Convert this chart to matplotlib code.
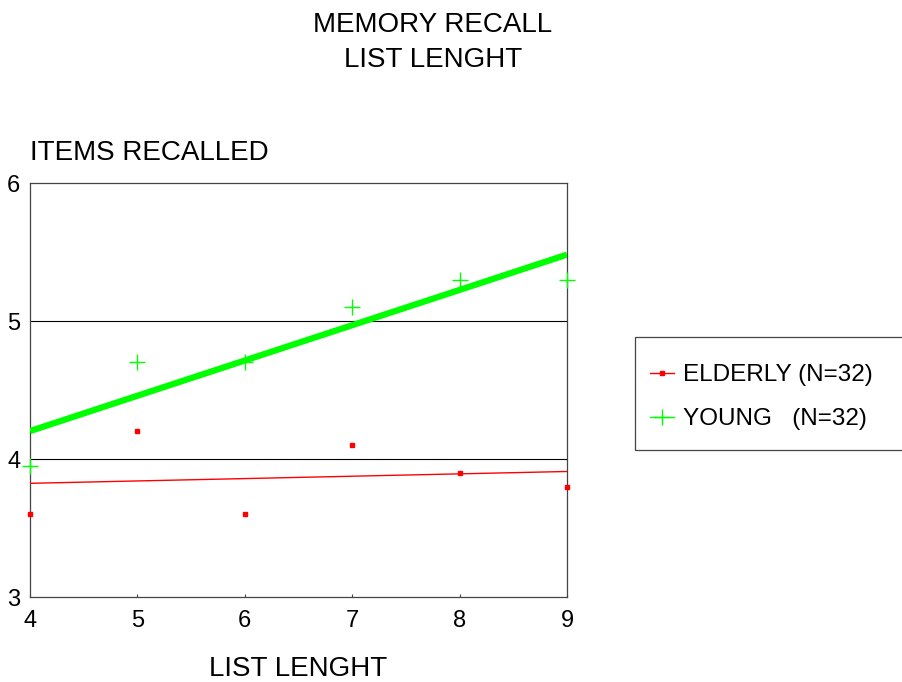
import numpy as np
import matplotlib
matplotlib.use("Agg")
import matplotlib.pyplot as plt
from matplotlib.lines import Line2D
from matplotlib.patches import Rectangle

plt.rcParams['font.family'] = ['Liberation Sans', 'DejaVu Sans']

# data
list_length = [4, 5, 6, 7, 8, 9]
elderly = [3.6, 4.2, 3.6, 4.1, 3.9, 3.8]
young = [3.95, 4.7, 4.7, 5.1, 5.3, 5.3]
y_ticks = [3, 4, 5, 6]

GREEN = '#00ff00'
RED = '#ff0000'
W, H = 902, 682

fig = plt.figure(figsize=(9.02, 6.82), dpi=100)
ax = fig.add_axes([30 / W, 85 / H, 537 / W, 414 / H])

x = np.array(list_length, dtype=float)

# fitted lines
for vals, col, lw in [(elderly, RED, 1.0), (young, GREEN, 4.5)]:
    b, a = np.polyfit(x, vals, 1)
    xx = np.array([x.min(), x.max()])
    ax.plot(xx, a + b * xx, color=col, lw=lw, solid_capstyle='butt', zorder=3)

ax.plot(x, elderly, ls='none', marker='s', ms=3.2, color=RED, mec=RED,
        clip_on=False, zorder=4)
ax.plot(x, young, ls='none', marker='+', ms=12, mew=1.0, color=GREEN,
        clip_on=False, zorder=4)

ax.set_xlim(4, 9)
ax.set_ylim(3, 6)
ax.set_xticks(list_length)
ax.set_yticks(y_ticks)
for yv in [4, 5]:
    ax.axhline(yv, color='black', lw=0.8, zorder=1)

for s in ax.spines.values():
    s.set_color('#444444')
    s.set_linewidth(0.9)

ax.tick_params(axis='x', direction='in', length=2.5, width=0.8, color='#444444',
               labelsize=17, pad=9.5)
ax.tick_params(axis='y', length=0, labelsize=17, pad=7)

fig.text(433 / W, 1 - 25 / H, 'MEMORY RECALL', ha='center', va='center', fontsize=20)
fig.text(433 / W, 1 - 60 / H, 'LIST LENGHT', ha='center', va='center', fontsize=20)
fig.text(30 / W, 1 - 153 / H, 'ITEMS RECALLED', ha='left', va='center', fontsize=20)
fig.text(298.5 / W, 1 - 676 / H, 'LIST LENGHT', ha='center', va='baseline', fontsize=20)

# legend box (runs off the right edge)
fig.patches.append(Rectangle((635 / W, 1 - 450 / H), 300 / W, 113 / H,
                             transform=fig.transFigure, fill=False,
                             edgecolor='#444444', lw=0.9))

handles = [
    Line2D([], [], color=RED, lw=1, marker='s', ms=3, mec=RED),
    Line2D([], [], color=GREEN, lw=1, marker='+', ms=11, mew=1),
]
labels = ['ELDERLY (N=32)', 'YOUNG   (N=32)']
fig.legend(handles, labels, loc='upper left',
           bbox_to_anchor=(650 / W, 1 - 364 / H),
           fontsize=17.5, frameon=False, borderpad=0, borderaxespad=0,
           labelspacing=0.92, handlelength=1.0, handletextpad=0.37)

fig.savefig('out.png', dpi=100)
